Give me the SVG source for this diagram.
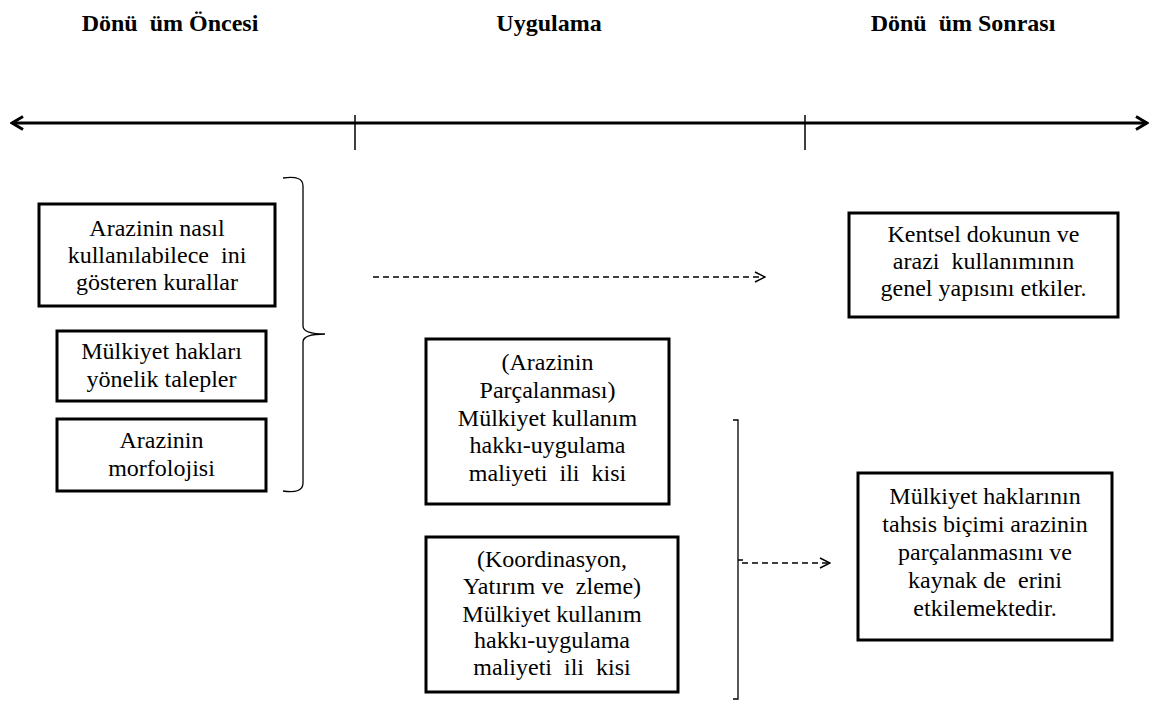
<svg xmlns="http://www.w3.org/2000/svg" width="1152" height="702" viewBox="0 0 1152 702" font-family="Liberation Serif, Times New Roman, serif">
<defs>
<style>
text{fill:#000;text-anchor:middle;white-space:pre}
.t{font-size:24px}
.h{font-size:24px;font-weight:bold}
.box{fill:#fff;stroke:#000;stroke-width:3}
.axis{fill:none;stroke:#000;stroke-width:3}
.tick{fill:none;stroke:#000;stroke-width:1.5}
.dash{fill:none;stroke:#000;stroke-width:1.5;stroke-dasharray:6 4}
.br{fill:none;stroke:#000;stroke-width:1.3}
</style>
<marker id="ah" viewBox="0 0 12 12" refX="11" refY="6" markerWidth="12" markerHeight="12" markerUnits="userSpaceOnUse" orient="auto-start-reverse">
<path d="M1,1 L11,6 L1,11" fill="none" stroke="#000" stroke-width="1.5"/>
</marker>
<marker id="big" viewBox="0 0 16 16" refX="14" refY="8" markerWidth="16" markerHeight="16" markerUnits="userSpaceOnUse" orient="auto-start-reverse">
<path d="M3,1.5 L14,8 L3,14.5" fill="none" stroke="#000" stroke-width="3"/>
</marker>
</defs>
<g id="titles" font-family="Liberation Serif">
<text class="h" x="170" y="31">Dönü  üm Öncesi</text>
<text class="h" x="549" y="31">Uygulama</text>
<text class="h" x="963" y="31">Dönü  üm Sonrası</text>
</g>
<g id="connectors">
<line class="axis" x1="12" y1="123" x2="1147" y2="123" marker-start="url(#big)" marker-end="url(#big)"/>
<line class="tick" x1="355" y1="115" x2="355" y2="150"/>
<line class="tick" x1="805" y1="115" x2="805" y2="150"/>
<path class="br" d="M283,178 Q303,175 303,186 L303,326 Q303,334 325,334 Q303,334 303,342 L303,483 Q303,494 283,491"/>
<line class="dash" x1="373" y1="277" x2="765" y2="277" marker-end="url(#ah)"/>
<path class="br" d="M733,420 L738,420 L738,699 L733,699 M738,560 L743,560"/>
<line class="dash" x1="742" y1="563" x2="830" y2="563" marker-end="url(#ah)"/>
</g>
<g id="n1" font-family="Liberation Serif">
<rect class="box" x="39" y="204" width="236" height="102"/>
<text class="t" x="157" y="236">Arazinin nasıl</text>
<text class="t" x="157" y="263">kullanılabilece  ini</text>
<text class="t" x="157" y="290">gösteren kurallar</text>
</g>
<g id="n2" font-family="Liberation Serif">
<rect class="box" x="57" y="331" width="209" height="70"/>
<text class="t" x="161.5" y="359">Mülkiyet hakları</text>
<text class="t" x="161.5" y="387">yönelik talepler</text>
</g>
<g id="n3" font-family="Liberation Serif">
<rect class="box" x="57" y="419" width="209" height="72"/>
<text class="t" x="161.5" y="448">Arazinin</text>
<text class="t" x="161.5" y="476">morfolojisi</text>
</g>
<g id="n4" font-family="Liberation Serif">
<rect class="box" x="849" y="213" width="269" height="104"/>
<text class="t" x="983.5" y="242">Kentsel dokunun ve</text>
<text class="t" x="983.5" y="269">arazi  kullanımının</text>
<text class="t" x="983.5" y="296">genel yapısını etkiler.</text>
</g>
<g id="n5" font-family="Liberation Serif">
<rect class="box" x="426" y="339" width="243" height="165"/>
<text class="t" x="547.5" y="370">(Arazinin</text>
<text class="t" x="547.5" y="398">Parçalanması)</text>
<text class="t" x="547.5" y="426">Mülkiyet kullanım</text>
<text class="t" x="547.5" y="453">hakkı-uygulama</text>
<text class="t" x="547.5" y="481">maliyeti  ili  kisi</text>
</g>
<g id="n6" font-family="Liberation Serif">
<rect class="box" x="426" y="537" width="252" height="155"/>
<text class="t" x="552" y="567">(Koordinasyon,</text>
<text class="t" x="552" y="594">Yatırım ve  zleme)</text>
<text class="t" x="552" y="622">Mülkiyet kullanım</text>
<text class="t" x="552" y="648">hakkı-uygulama</text>
<text class="t" x="552" y="675">maliyeti  ili  kisi</text>
</g>
<g id="n7" font-family="Liberation Serif">
<rect class="box" x="858" y="473" width="254" height="167"/>
<text class="t" x="985" y="504">Mülkiyet haklarının</text>
<text class="t" x="985" y="532">tahsis biçimi arazinin</text>
<text class="t" x="985" y="560">parçalanmasını ve</text>
<text class="t" x="985" y="588">kaynak de  erini</text>
<text class="t" x="985" y="616">etkilemektedir.</text>
</g>
</svg>
